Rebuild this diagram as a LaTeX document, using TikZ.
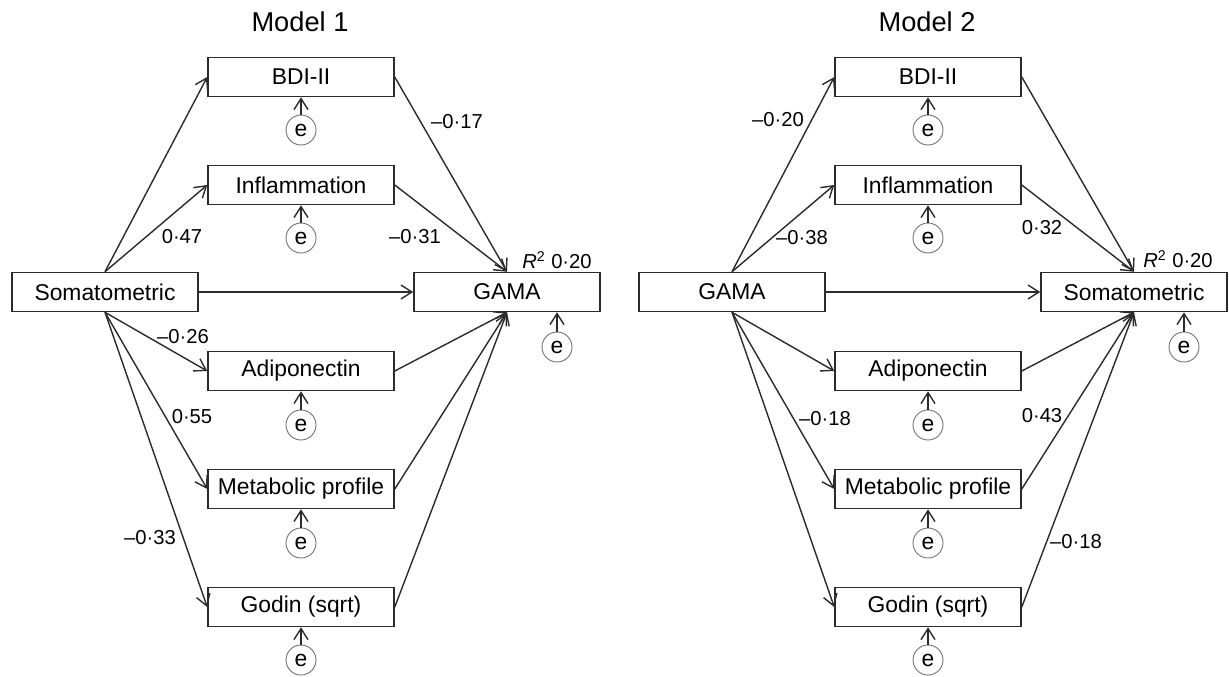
\documentclass[tikz,border=0pt]{standalone}
\usepackage{fontspec}
\setmainfont{Liberation Sans}
\usepackage{xcolor}
\usetikzlibrary{arrows.meta}
\definecolor{custom_line}{HTML}{2b2b2b}
\definecolor{custom_ring}{HTML}{6e6e6e}

\begin{document}
\begin{tikzpicture}[x=0.02cm, y=-0.02cm, >={Straight Barb[length=2.2mm, width=2.8mm]}]
            % Styles
            \tikzstyle{varbox} = [rectangle, draw=custom_line, line width=0.9pt, minimum width=3.72cm, minimum height=0.78cm, inner sep=0pt, font=\fontsize{13}{15}\selectfont]
            \tikzstyle{errcirc} = [circle, draw=custom_ring, line width=0.5pt, minimum size=0.6cm, inner sep=0pt, font=\fontsize{13}{15}\selectfont]
            \tikzstyle{coef} = [inner sep=1pt, font=\fontsize{11.5}{13}\selectfont]
            \tikzstyle{modeltitle} = [font=\fontsize{15.5}{18}\selectfont]
            \tikzstyle{pathline} = [->, custom_line, line width=0.8pt]

            \useasboundingbox (0,0) rectangle (1229,676);

            % Titles
            \node[modeltitle] (T1) at (300,22) {Model 1};
            \node[modeltitle] (T2) at (927,22) {Model 2};

            % Nodes: Model 1
            \node[varbox] (A1) at (105,292) {Somatometric};
            \node[varbox] (Y1) at (507,292) {GAMA};
            \node[varbox] (M11) at (301,77) {BDI-II};
            \node[varbox] (M12) at (301,185) {Inflammation};
            \node[varbox] (M13) at (301,371) {Adiponectin};
            \node[varbox] (M14) at (301,489) {Metabolic profile};
            \node[varbox] (M15) at (301,607) {Godin (sqrt)};

            % Nodes: Model 2
            \node[varbox] (A2) at (732,292) {GAMA};
            \node[varbox] (Y2) at (1134,292) {Somatometric};
            \node[varbox] (M21) at (928,77) {BDI-II};
            \node[varbox] (M22) at (928,185) {Inflammation};
            \node[varbox] (M23) at (928,371) {Adiponectin};
            \node[varbox] (M24) at (928,489) {Metabolic profile};
            \node[varbox] (M25) at (928,607) {Godin (sqrt)};

            % Error terms
            \node[errcirc] (E11) at (301,130) {e};
            \node[errcirc] (E12) at (301,238) {e};
            \node[errcirc] (E13) at (301,425) {e};
            \node[errcirc] (E14) at (301,543) {e};
            \node[errcirc] (E15) at (301,660) {e};
            \node[errcirc] (EY1) at (557,347) {e};
            \node[errcirc] (E21) at (928,130) {e};
            \node[errcirc] (E22) at (928,238) {e};
            \node[errcirc] (E23) at (928,425) {e};
            \node[errcirc] (E24) at (928,543) {e};
            \node[errcirc] (E25) at (928,660) {e};
            \node[errcirc] (EY2) at (1184,347) {e};

            % Paths: Model 1
            \draw[pathline] (A1.north) -- (M11.west);
            \draw[pathline] (A1.north) -- (M12.west);
            \draw[pathline] (A1.south) -- (M13.west);
            \draw[pathline] (A1.south) -- (M14.west);
            \draw[pathline] (A1.south) -- (M15.west);
            \draw[pathline] (A1) -- (Y1);
            \draw[pathline] (M11.east) -- (Y1.north);
            \draw[pathline] (M12.east) -- (Y1.north);
            \draw[pathline] (M13.east) -- (Y1.south);
            \draw[pathline] (M14.east) -- (Y1.south);
            \draw[pathline] (M15.east) -- (Y1.south);

            % Paths: Model 2
            \draw[pathline] (A2.north) -- (M21.west);
            \draw[pathline] (A2.north) -- (M22.west);
            \draw[pathline] (A2.south) -- (M23.west);
            \draw[pathline] (A2.south) -- (M24.west);
            \draw[pathline] (A2.south) -- (M25.west);
            \draw[pathline] (A2) -- (Y2);
            \draw[pathline] (M21.east) -- (Y2.north);
            \draw[pathline] (M22.east) -- (Y2.north);
            \draw[pathline] (M23.east) -- (Y2.south);
            \draw[pathline] (M24.east) -- (Y2.south);
            \draw[pathline] (M25.east) -- (Y2.south);

            % Error edges
            \draw[pathline] (E11) -- (M11);
            \draw[pathline] (E12) -- (M12);
            \draw[pathline] (E13) -- (M13);
            \draw[pathline] (E14) -- (M14);
            \draw[pathline] (E15) -- (M15);
            \draw[pathline] (EY1) -- (EY1 |- Y1.south);
            \draw[pathline] (E21) -- (M21);
            \draw[pathline] (E22) -- (M22);
            \draw[pathline] (E23) -- (M23);
            \draw[pathline] (E24) -- (M24);
            \draw[pathline] (E25) -- (M25);
            \draw[pathline] (EY2) -- (EY2 |- Y2.south);

            % Coefficients: Model 1
            \node[coef] (C11) at (457,122) {–0·17};
            \node[coef] (C12) at (182,237) {0·47};
            \node[coef] (C13) at (415,237) {–0·31};
            \node[coef] (C14) at (183,337) {–0·26};
            \node[coef] (C15) at (192,417) {0·55};
            \node[coef] (C16) at (150,538) {–0·33};
            \node[coef] (R1) at (557,260) {\textit{R}\textsuperscript{2} 0·20};

            % Coefficients: Model 2
            \node[coef] (C21) at (778,120) {–0·20};
            \node[coef] (C22) at (802,238) {–0·38};
            \node[coef] (C23) at (1042,228) {0·32};
            \node[coef] (C24) at (825,419) {–0·18};
            \node[coef] (C25) at (1042,416) {0·43};
            \node[coef] (C26) at (1076,542) {–0·18};
            \node[coef] (R2) at (1178,259) {\textit{R}\textsuperscript{2} 0·20};
        \end{tikzpicture}
\end{document}
